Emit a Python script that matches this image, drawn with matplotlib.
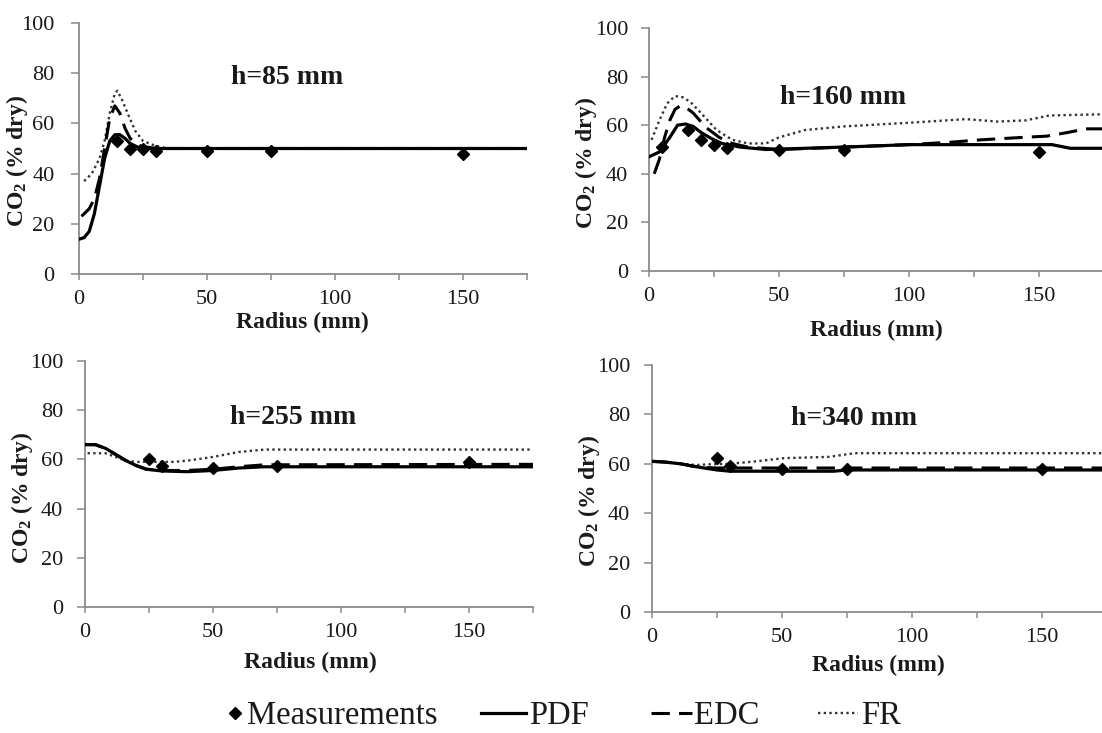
import matplotlib
matplotlib.use("Agg")
import matplotlib.pyplot as plt
from matplotlib.lines import Line2D

plt.rcParams['font.family'] = ['Liberation Serif', 'DejaVu Serif']
plt.rcParams['mathtext.fontset'] = 'custom'
plt.rcParams['mathtext.rm'] = 'Liberation Serif:bold'
plt.rcParams['mathtext.default'] = 'rm'

# ---------------- data ----------------
titles = ["h=85 mm", "h=160 mm", "h=255 mm", "h=340 mm"]
x_ticks = [0, 50, 100, 150]
x_minor = [25, 75, 125, 175]
y_ticks = [0, 20, 40, 60, 80, 100]

# h = 85 mm
r_85_meas = [15, 20, 25, 30, 50, 75, 150]
co2_85_meas = [53, 50, 50, 49, 49, 49, 48]
r_85_pdf = [0.5, 2, 4, 6, 8, 10, 12, 14, 16, 18, 20, 23, 27, 175]
co2_85_pdf = [14, 14.5, 17, 24, 35, 46, 53, 55.5, 55.5, 54, 52, 50.5, 50, 50]
r_85_edc = [1, 4, 6, 8, 10, 12, 14, 16, 18, 20, 24, 30, 175]
co2_85_edc = [23, 26, 30, 38, 50, 62, 67, 64, 58, 54, 51, 50, 50]
r_85_fr = [2, 5, 8, 10, 12, 14, 15, 17, 19, 22, 25, 30, 35, 175]
co2_85_fr = [37, 40, 46, 53, 64, 72, 73, 69, 64, 57, 53, 51, 50, 50]

# h = 160 mm
r_160_meas = [5, 15, 20, 25, 30, 50, 75, 150]
co2_160_meas = [51, 58, 54, 52, 50.5, 50, 50, 49]
r_160_pdf = [0, 4, 8, 11, 14, 17, 20, 24, 28, 35, 45, 75, 100, 155, 162, 175]
co2_160_pdf = [47, 49, 55, 60, 60.5, 59.5, 57, 54.5, 52.5, 51, 50, 51, 52, 52, 50.5, 50.5]
r_160_edc = [2, 4, 6, 8, 10, 12, 14, 17, 22, 27, 32, 38, 50, 75, 100, 116, 128, 144, 153, 161, 168, 175]
co2_160_edc = [40, 46, 55, 62, 66.5, 68, 67.5, 65, 59, 55, 52.5, 51, 50, 51, 52, 53, 54, 55, 55.5, 57, 58.5, 58.5]
r_160_fr = [1, 4, 7, 10, 13, 16, 20, 26, 32, 38, 45, 50, 60, 75, 100, 122, 134, 145, 154, 175]
co2_160_fr = [54, 62, 69, 72, 71.5, 69.5, 65, 58, 54, 52.5, 52.5, 55, 58, 59.5, 61, 62.5, 61.5, 62, 64, 64.5]

# h = 255 mm
r_255_meas = [25, 30, 50, 75, 150]
co2_255_meas = [60, 57.5, 56.5, 57.5, 59]
r_255_pdf = [0, 4, 8, 12, 16, 20, 24, 30, 40, 50, 60, 70, 175]
co2_255_pdf = [66, 66, 64.5, 62, 59.5, 57.5, 56, 55.3, 55, 55.5, 56.5, 57, 57]
r_255_edc = [0, 4, 8, 12, 16, 20, 24, 30, 40, 50, 60, 70, 175]
co2_255_edc = [66, 66, 64.5, 62, 59.5, 57.5, 56, 55.5, 55.5, 56, 57, 57.8, 58]
r_255_fr = [1, 8, 12, 16, 20, 25, 35, 40, 50, 60, 70, 175]
co2_255_fr = [62.5, 62.5, 61, 59.5, 59, 59, 59, 59.5, 61, 63, 64, 64]

# h = 340 mm
r_340_meas = [25, 30, 50, 75, 150]
co2_340_meas = [62.5, 59, 58, 58, 58]
r_340_pdf = [0, 5, 11, 16, 20, 25, 30, 50, 70, 75, 175]
co2_340_pdf = [61, 60.7, 60, 59, 58.3, 57.5, 57, 57, 57, 57.5, 57.5]
r_340_edc = [0, 5, 11, 16, 20, 25, 30, 50, 70, 175]
co2_340_edc = [61, 60.7, 60, 59, 58.5, 58.3, 58.3, 58.3, 58.3, 58.3]
r_340_fr = [0, 5, 11, 17, 22, 30, 40, 51, 68, 78, 175]
co2_340_fr = [61, 60.7, 60, 59.5, 59.8, 60, 61, 62.3, 62.8, 64.3, 64.3]

panels = [
    (r_85_meas, co2_85_meas, r_85_pdf, co2_85_pdf, r_85_edc, co2_85_edc, r_85_fr, co2_85_fr),
    (r_160_meas, co2_160_meas, r_160_pdf, co2_160_pdf, r_160_edc, co2_160_edc, r_160_fr, co2_160_fr),
    (r_255_meas, co2_255_meas, r_255_pdf, co2_255_pdf, r_255_edc, co2_255_edc, r_255_fr, co2_255_fr),
    (r_340_meas, co2_340_meas, r_340_pdf, co2_340_pdf, r_340_edc, co2_340_edc, r_340_fr, co2_340_fr),
]

# ---------------- layout ----------------
W, H = 1102, 733
fig = plt.figure(figsize=(W / 100, H / 100), dpi=100)

# axes boxes in pixels: (x0, x1, y_bottom, y_top)
boxes = [(79, 527, 274, 23), (649, 1104, 271, 28), (85, 533, 607, 361), (652, 1107, 612, 365)]
title_pos = [(0.464, 0.781), (0.426, 0.712), (0.464, 0.772), (0.444, 0.785)]
xlabel_pos = [(0.498, -0.195), (0.499, -0.243), (0.504, -0.224), (0.497, -0.215)]
ylabel_pos = [(-0.138, 0.45), (-0.138, 0.444), (-0.141, 0.443), (-0.138, 0.449)]
ypads = [11.5, 9, 9.8, 9.8]

gray = '#8a8a8a'
txt = '#1a1a1a'
edc_style = (0, (6, 3))
fr_style = (0, (1, 1.4))

for i, (box, data) in enumerate(zip(boxes, panels)):
    x0, x1, yb, yt = box
    ax = fig.add_axes([x0 / W, (H - yb) / H, (x1 - x0) / W, (yb - yt) / H])
    rm, cm, rp, cp, re, ce, rf, cf = data
    ax.plot(rf, cf, color='#333333', lw=1.7, ls=fr_style, zorder=2)
    ax.plot(re, ce, color='black', lw=2.2, ls=edc_style, zorder=3)
    ax.plot(rp, cp, color='black', lw=2.3, ls='-', zorder=4)
    ax.plot(rm, cm, ls='none', marker='D', ms=6, color='black', zorder=5)

    ax.set_xlim(0, 175)
    ax.set_ylim(0, 100)
    ax.set_xticks(x_ticks)
    ax.set_xticks(x_minor, minor=True)
    ax.set_yticks(y_ticks)
    for s in ['top', 'right']:
        ax.spines[s].set_visible(False)
    for s in ['left', 'bottom']:
        ax.spines[s].set_color(gray)
        ax.spines[s].set_linewidth(1.3)
    ax.tick_params(axis='both', which='both', direction='out',
                   width=1.1, color=gray, labelsize=16, labelcolor=txt)
    ax.tick_params(axis='x', which='both', length=4.5, pad=7)
    ax.tick_params(axis='y', length=6, pad=ypads[i])
    ax.set_facecolor('none')

    ax.text(title_pos[i][0], title_pos[i][1], titles[i], transform=ax.transAxes,
            ha='center', va='center', fontsize=20, fontweight='bold', color=txt)
    ax.set_xlabel('Radius (mm)', fontsize=17, fontweight='bold', color=txt)
    ax.xaxis.set_label_coords(*xlabel_pos[i])
    ax.xaxis.label.set_va('center')
    ax.set_ylabel('CO$_2$ (% dry)', fontsize=17, fontweight='bold', color=txt)
    ax.yaxis.set_label_coords(*ylabel_pos[i])
    ax.yaxis.label.set_va('center')

# ---------------- legend ----------------
legend_labels = ['Measurements', 'PDF', 'EDC', 'FR']
handles = [
    Line2D([], [], ls='none', marker='D', ms=6.5, color='black'),
    Line2D([], [], ls='-', lw=2.3, color='black'),
    Line2D([], [], ls=(0, (6, 3)), lw=2.2, color='black'),
    Line2D([], [], ls=(0, (1, 1.4)), lw=1.7, color='#333333'),
]
leg_x = [226, 481, 651, 818]
leg_hl = [0.55, 1.38, 1.25, 1.23]
leg_y = (H - 716) / H
for h, lab, lx, hl in zip(handles, legend_labels, leg_x, leg_hl):
    fig.legend(handles=[h], labels=[lab], loc='center left',
               bbox_to_anchor=(lx / W, leg_y), frameon=False, fontsize=23.5,
               handlelength=hl, handletextpad=0.08, borderpad=0, borderaxespad=0,
               labelcolor=txt)

fig.savefig('out.png', dpi=100)
